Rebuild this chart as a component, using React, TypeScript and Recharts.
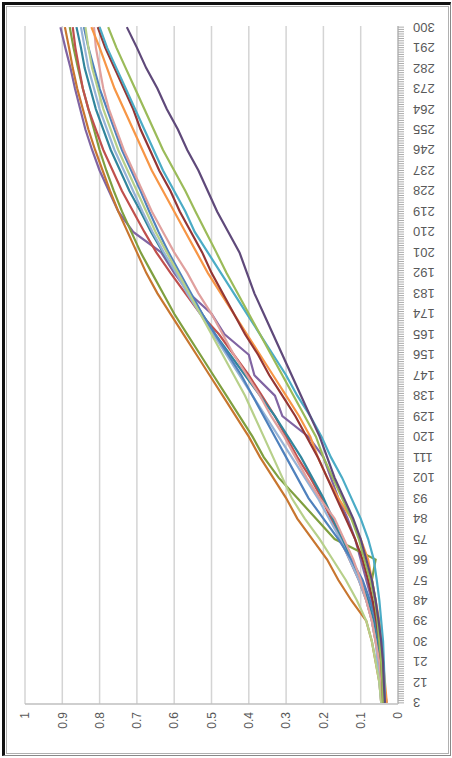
import { LineChart, Line, XAxis, YAxis, CartesianGrid } from "recharts";

// category labels (every 9th category is labelled)
const categories = [
  3, 12, 21, 30, 39, 48, 57, 66, 75, 84, 93, 102, 111, 120, 129, 138, 147,
  156, 165, 174, 183, 192, 201, 210, 219, 228, 237, 246, 255, 264, 273, 282,
  291, 300,
];
const valueTicks = [0, 0.1, 0.2, 0.3, 0.4, 0.5, 0.6, 0.7, 0.8, 0.9, 1];

// every category gets a small tick mark
const tickMarks: number[] = [];
for (let c = 3; c <= 300; c++) tickMarks.push(c);

// series values at each labelled category
const purple = [0.03, 0.04, 0.05, 0.055, 0.06, 0.07, 0.085, 0.1, 0.115, 0.135, 0.16, 0.18, 0.2, 0.24, 0.31, 0.33, 0.385, 0.4, 0.465, 0.5, 0.56, 0.6, 0.635, 0.71, 0.75, 0.775, 0.8, 0.82, 0.838, 0.852, 0.866, 0.878, 0.892, 0.905];
const brown = [0.045, 0.05, 0.06, 0.07, 0.085, 0.125, 0.16, 0.19, 0.23, 0.27, 0.3, 0.335, 0.37, 0.4, 0.435, 0.47, 0.505, 0.54, 0.575, 0.61, 0.645, 0.675, 0.7, 0.725, 0.75, 0.772, 0.792, 0.812, 0.83, 0.845, 0.86, 0.872, 0.882, 0.893];
const oliveGreen = [0.04, 0.045, 0.05, 0.052, 0.055, 0.06, 0.07, 0.06, 0.17, 0.22, 0.27, 0.32, 0.36, 0.39, 0.425, 0.46, 0.495, 0.53, 0.565, 0.6, 0.63, 0.66, 0.69, 0.715, 0.74, 0.762, 0.782, 0.8, 0.815, 0.83, 0.845, 0.858, 0.87, 0.88];
const red = [0.04, 0.045, 0.05, 0.06, 0.07, 0.085, 0.105, 0.13, 0.155, 0.18, 0.205, 0.235, 0.27, 0.3, 0.33, 0.365, 0.4, 0.44, 0.48, 0.53, 0.57, 0.61, 0.648, 0.68, 0.71, 0.74, 0.765, 0.79, 0.81, 0.83, 0.845, 0.855, 0.865, 0.872];
const teal = [0.04, 0.045, 0.05, 0.055, 0.065, 0.08, 0.1, 0.125, 0.15, 0.175, 0.2, 0.23, 0.26, 0.295, 0.33, 0.37, 0.41, 0.45, 0.49, 0.525, 0.56, 0.595, 0.63, 0.662, 0.69, 0.72, 0.745, 0.77, 0.79, 0.81, 0.825, 0.84, 0.85, 0.862];
const lightBlue = [0.045, 0.05, 0.055, 0.06, 0.07, 0.085, 0.105, 0.13, 0.155, 0.185, 0.215, 0.25, 0.285, 0.32, 0.355, 0.39, 0.425, 0.46, 0.495, 0.53, 0.565, 0.595, 0.628, 0.658, 0.685, 0.71, 0.735, 0.76, 0.78, 0.8, 0.815, 0.83, 0.84, 0.85];
const blue = [0.04, 0.042, 0.045, 0.05, 0.06, 0.075, 0.095, 0.125, 0.16, 0.2, 0.24, 0.27, 0.3, 0.33, 0.36, 0.39, 0.42, 0.455, 0.49, 0.525, 0.555, 0.585, 0.615, 0.642, 0.667, 0.69, 0.715, 0.74, 0.76, 0.78, 0.8, 0.815, 0.83, 0.842];
const lightGreen = [0.045, 0.05, 0.06, 0.07, 0.085, 0.11, 0.14, 0.175, 0.21, 0.25, 0.285, 0.31, 0.335, 0.36, 0.385, 0.41, 0.44, 0.47, 0.5, 0.53, 0.56, 0.59, 0.62, 0.65, 0.675, 0.7, 0.725, 0.75, 0.77, 0.79, 0.805, 0.82, 0.83, 0.838];
const pink = [0.04, 0.045, 0.05, 0.06, 0.07, 0.085, 0.1, 0.12, 0.145, 0.17, 0.21, 0.245, 0.275, 0.305, 0.34, 0.37, 0.405, 0.44, 0.47, 0.5, 0.535, 0.565, 0.6, 0.63, 0.66, 0.685, 0.71, 0.735, 0.755, 0.775, 0.79, 0.8, 0.81, 0.815];
const orange = [0.03, 0.035, 0.04, 0.045, 0.05, 0.06, 0.07, 0.08, 0.1, 0.125, 0.16, 0.19, 0.215, 0.235, 0.265, 0.3, 0.335, 0.37, 0.405, 0.44, 0.475, 0.51, 0.54, 0.57, 0.6, 0.63, 0.66, 0.685, 0.71, 0.735, 0.76, 0.78, 0.8, 0.822];
const darkRed = [0.04, 0.042, 0.045, 0.05, 0.058, 0.068, 0.08, 0.095, 0.115, 0.14, 0.165, 0.19, 0.215, 0.245, 0.275, 0.31, 0.345, 0.375, 0.41, 0.44, 0.47, 0.5, 0.525, 0.555, 0.585, 0.61, 0.64, 0.665, 0.69, 0.71, 0.735, 0.76, 0.785, 0.805];
const cyan = [0.035, 0.036, 0.038, 0.04, 0.045, 0.05, 0.057, 0.065, 0.08, 0.1, 0.125, 0.15, 0.18, 0.205, 0.235, 0.27, 0.3, 0.335, 0.37, 0.405, 0.44, 0.475, 0.51, 0.545, 0.57, 0.6, 0.63, 0.655, 0.68, 0.705, 0.73, 0.755, 0.78, 0.8];
const green = [0.04, 0.042, 0.045, 0.05, 0.055, 0.062, 0.075, 0.09, 0.105, 0.125, 0.15, 0.175, 0.2, 0.22, 0.25, 0.28, 0.31, 0.34, 0.37, 0.4, 0.43, 0.46, 0.487, 0.515, 0.543, 0.57, 0.6, 0.63, 0.655, 0.68, 0.705, 0.73, 0.755, 0.777];
const darkPurple = [0.035, 0.038, 0.04, 0.045, 0.052, 0.06, 0.07, 0.085, 0.1, 0.12, 0.145, 0.17, 0.19, 0.21, 0.235, 0.26, 0.285, 0.31, 0.335, 0.36, 0.385, 0.405, 0.425, 0.455, 0.485, 0.51, 0.535, 0.565, 0.59, 0.62, 0.645, 0.675, 0.7, 0.727];

const series = [
  { key: "purple", values: purple, color: "#8064A2" },
  { key: "brown", values: brown, color: "#C8762F" },
  { key: "oliveGreen", values: oliveGreen, color: "#7F9F3F" },
  { key: "red", values: red, color: "#C0504D" },
  { key: "teal", values: teal, color: "#31859C" },
  { key: "lightBlue", values: lightBlue, color: "#95B3D7" },
  { key: "blue", values: blue, color: "#4F81BD" },
  { key: "lightGreen", values: lightGreen, color: "#B7D08A" },
  { key: "pink", values: pink, color: "#E0A09E" },
  { key: "orange", values: orange, color: "#F79646" },
  { key: "darkRed", values: darkRed, color: "#943634" },
  { key: "cyan", values: cyan, color: "#4BACC6" },
  { key: "green", values: green, color: "#9BBB59" },
  { key: "darkPurple", values: darkPurple, color: "#5F497A" },
];

const data = categories.map((c, i) => {
  const row: Record<string, number> = { c };
  series.forEach((s) => (row[s.key] = s.values[i]));
  return row;
});

const CategoryTick = ({ x, y, payload }: any) => {
  if (!categories.includes(payload.value)) return <g />;
  const ty = y + 7;
  return (
    <text
      x={x}
      y={ty}
      transform={`rotate(-90 ${x} ${ty})`}
      textAnchor="end"
      dominantBaseline="central"
      fontSize={13}
      fill="#595959"
    >
      {payload.value}
    </text>
  );
};

const App = () => {
  return (
    <div
      style={{
        position: "absolute",
        left: 0,
        top: 0,
        width: 452,
        height: 758,
        background: "#fff",
        overflow: "hidden",
      }}
    >
      <div
        style={{
          position: "absolute",
          left: -153,
          top: 153,
          width: 758,
          height: 452,
          transform: "rotate(-90deg)",
        }}
      >
        <LineChart
          width={758}
          height={452}
          data={data}
          margin={{ top: 25, right: 26, left: 0, bottom: 0 }}
          style={{ fontFamily: "'Liberation Sans', Arial, sans-serif" }}
        >
          <CartesianGrid vertical={false} stroke="#D4D4D4" strokeWidth={1.5} />
          <XAxis
            dataKey="c"
            type="number"
            domain={[2.5, 300.5]}
            ticks={tickMarks}
            interval={0}
            height={54}
            tick={<CategoryTick />}
            tickSize={6}
            tickLine={{ stroke: "#ABABAB" }}
            axisLine={{ stroke: "#BFBFBF", strokeWidth: 1.5 }}
          />
          <YAxis
            type="number"
            domain={[0, 1]}
            ticks={valueTicks}
            interval={0}
            width={54}
            tickLine={false}
            axisLine={{ stroke: "#BFBFBF", strokeWidth: 1.5 }}
            tick={{ fontSize: 12, fill: "#595959" }}
          />
          {series.map((s) => (
            <Line
              key={s.key}
              dataKey={s.key}
              type="linear"
              stroke={s.color}
              strokeWidth={2.2}
              dot={false}
              isAnimationActive={false}
            />
          ))}
        </LineChart>
      </div>
      <div
        style={{
          position: "absolute",
          left: 2,
          top: 2,
          width: 449,
          height: 754,
          boxSizing: "border-box",
          borderLeft: "3px solid #111",
          borderTop: "3px solid #111",
          borderRight: "1px solid #888",
          borderBottom: "1px solid #888",
        }}
      />
      <div
        style={{
          position: "absolute",
          left: 6,
          top: 6,
          width: 443,
          height: 748,
          boxSizing: "border-box",
          border: "1px solid #B0B0B0",
        }}
      />
    </div>
  );
};

export default App;
